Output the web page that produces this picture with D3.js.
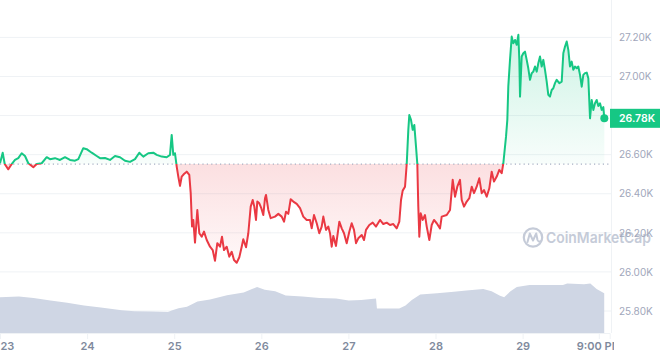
<!DOCTYPE html>
<html><head><meta charset="utf-8">
<script src="https://cdn.jsdelivr.net/npm/d3@7/dist/d3.min.js"></script>
<style>html,body{margin:0;padding:0;background:#fff;overflow:hidden}svg{display:block;font-family:Inter,"Noto Sans",sans-serif}</style>
</head><body><svg id="c" width="660" height="356"></svg>
<script>
// ---- data (hours since 23 Aug 00:00 UTC, price in thousands USD) ----
const priceHours = [0,0.74,1.30,2.29,3.22,4.13,5.04,5.98,6.89,7.80,9.18,10.11,11.49,12.87,13.78,15.16,16.53,17.91,19.29,20.67,21.58,22.95,23.89,25.27,26.65,27.56,28.93,30.31,
31.69,33.07,34.44,35.82,37.20,38.38,39.49,40.86,42.24,43.18,44.56,45.93,46.84,47.31,47.75,48.22,48.69,49.13,49.60,50.07,50.70,51.45,52.16,52.55,52.91,53.26,53.73,54.37,54.92,55.58,56.21,56.96,57.87,58.61,59.24,59.88,60.62,
61.17,61.72,62.47,63.18,63.85,64.48,65.22,65.94,66.60,67.04,67.79,68.42,69.08,69.63,70.07,70.54,70.90,71.45,72.00,72.55,73.02,73.30,73.93,74.59,75.78,76.69,77.62,78.26,78.81,79.44,80.10,80.82,81.76,82.67,83.57,84.51,85.42,85.89,86.52,87.27,87.98,88.64,89.09,89.83,90.46,
90.93,91.40,91.84,92.58,93.50,94.16,94.79,95.53,96.25,96.91,97.54,98.10,98.73,99.67,100.30,100.85,101.76,102.70,103.61,104.71,105.62,106.55,107.46,108.37,109.31,110.03,110.50,110.96,111.60,112.07,112.51,112.78,113.25,113.72,114.16,114.63,114.99,115.26,115.54,115.92,116.48,117.11,117.58,118.30,118.95,119.59,120.33,121.24,
121.71,123.09,124.00,124.74,125.38,126.01,126.75,127.22,127.86,128.60,129.32,129.98,130.61,131.35,132.07,132.73,133.37,134.11,134.83,135.49,136.12,136.87,137.58,138.24,138.69,139.43,139.79,140.06,
140.53,141.00,141.44,141.91,142.38,142.83,143.10,143.29,143.75,144.20,144.66,145.13,145.57,146.04,146.51,146.95,147.42,147.89,148.33,148.80,149.26,149.71,150.17,150.64,151.08,151.55,152.02,152.46,152.93,153.40,154.11,154.78,155.22,155.69,156.15,156.60,157.06,157.53,157.97,158.44,158.91,159.35,159.82,160.29,160.73,161.20,161.67,162.11,162.58,163.04,163.49,163.95,164.42,164.86,165.33,165.80,166.24,166.52];
const priceK = [26.556,26.610,26.552,26.525,26.552,26.573,26.582,26.607,26.593,26.556,26.536,26.552,26.556,26.587,26.577,26.582,26.573,26.587,26.573,26.569,26.577,26.633,26.628,26.610,26.593,26.582,26.583,26.573,
26.593,26.587,26.569,26.563,26.577,26.610,26.590,26.607,26.610,26.599,26.590,26.587,26.599,26.701,26.599,26.607,26.539,26.488,26.440,26.488,26.501,26.513,26.496,26.403,26.232,26.266,26.150,26.317,26.198,26.180,26.206,26.163,26.129,26.112,26.057,26.147,26.129,
26.180,26.112,26.129,26.078,26.103,26.061,26.047,26.075,26.129,26.167,26.126,26.198,26.334,26.368,26.334,26.266,26.360,26.351,26.326,26.291,26.377,26.394,26.317,26.275,26.283,26.297,26.283,26.257,26.308,26.297,26.372,26.360,26.348,26.326,26.283,26.266,26.266,26.223,26.291,26.249,26.198,26.232,26.283,26.215,26.232,
26.198,26.129,26.184,26.133,26.257,26.223,26.198,26.147,26.206,26.249,26.215,26.147,26.172,26.189,26.163,26.215,26.240,26.252,26.232,26.266,26.245,26.252,26.240,26.245,26.223,26.257,26.368,26.416,26.436,26.552,26.727,26.803,26.778,26.727,26.752,26.641,26.552,26.334,26.180,26.300,26.266,26.291,26.232,26.163,26.240,26.266,26.249,26.223,
26.283,26.291,26.317,26.471,26.385,26.436,26.471,26.368,26.334,26.360,26.377,26.436,26.403,26.436,26.479,26.403,26.419,26.385,26.428,26.513,26.462,26.488,26.522,26.505,26.556,26.692,26.778,26.948,
27.085,27.204,27.170,27.187,27.162,27.213,27.085,26.897,27.102,27.119,27.127,27.085,27.042,26.983,27.017,27.025,27.051,27.025,27.068,27.102,27.051,27.085,27.034,26.974,26.906,26.897,26.931,26.940,26.966,26.983,26.966,26.974,27.119,27.153,27.179,27.136,27.051,27.076,27.034,27.051,27.042,27.051,27.008,26.948,27.008,27.017,27.020,26.991,26.786,26.880,26.829,26.863,26.880,26.849,26.863,26.829,26.843,26.786];
const volHours = [0,5.21,9.26,13.89,18.52,23.15,27.78,33.56,37.06,41.69,46.29,47.48,49.21,51.53,54.42,57.87,62.55,67.15,69.44,70.84,72.94,75.83,78.73,83.35,87.98,92.61,96.08,99.56,103.61,103.86,110.0,111.74,113.47,115.79,120.42,125.05,128.52,133.15,135.46,137.78,138.93,140.67,142.41,145.88,150.51,155.13,156.29,160.92,162.66,164.39,166.49];
const volB = [17.9,18.2,17.5,16.2,15.1,13.8,12.8,11.4,10.9,10.7,10.5,11.4,12.4,13.1,15.8,16.8,18.9,20.3,22.0,23.0,21.6,20.9,18.7,18.2,17.5,17.2,16.2,16.5,17.2,12.2,12.2,13.8,16.5,19.2,19.9,20.6,21.3,22.0,20.9,18.6,17.9,20.9,23.0,24.0,24.0,24.0,24.7,24.4,24.7,22.0,19.9];
const openPriceK = 26.552;
const lastPriceLabel = "26.78K";
const yTickValues = [25.8, 26.0, 26.2, 26.4, 26.6, 26.8, 27.0, 27.2];
const xTickHours = [0, 24, 48, 72, 96, 120, 144, 165];
const xTickLabels = ["23", "24", "25", "26", "27", "28", "29", "9:00 PM"];
const watermarkText = "CoinMarketCap";

// ---- build ----
const t0 = Date.UTC(2023, 7, 23);
const toDate = h => new Date(t0 + h * 3600e3);
const n = Math.min(priceHours.length, priceK.length);
const pts = d3.range(n).map(i => ({t: toDate(priceHours[i]), v: priceK[i]}));
const vm = Math.min(volHours.length, volB.length);
const vpts = d3.range(vm).map(i => ({t: toDate(volHours[i]), v: volB[i]}));

const GREEN = "#16c784", RED = "#ea3943";
const plotRight = 611, axisY = 333;
const x = d3.scaleUtc().domain([toDate(0), toDate(168)]).range([0, 609.7]);
const y = d3.scaleLinear().domain([25.8, 27.2]).range([311, 37.4]);
const yv = d3.scaleLinear().domain([0, 25]).range([axisY, 283]);
const yBase = y(openPriceK);
const last = pts[pts.length - 1];
const ly = y(last.v);

const svg = d3.select("#c");
const defs = svg.append("defs");
const gG = defs.append("linearGradient").attr("id", "gg").attr("gradientUnits", "userSpaceOnUse")
  .attr("x1", 0).attr("x2", 0).attr("y1", 30).attr("y2", yBase);
gG.append("stop").attr("offset", 0).attr("stop-color", GREEN).attr("stop-opacity", 0.22);
gG.append("stop").attr("offset", 1).attr("stop-color", GREEN).attr("stop-opacity", 0.03);
const gR = defs.append("linearGradient").attr("id", "gr").attr("gradientUnits", "userSpaceOnUse")
  .attr("x1", 0).attr("x2", 0).attr("y1", yBase).attr("y2", 268);
gR.append("stop").attr("offset", 0).attr("stop-color", RED).attr("stop-opacity", 0.16);
gR.append("stop").attr("offset", 1).attr("stop-color", RED).attr("stop-opacity", 0.03);
defs.append("clipPath").attr("id", "above").append("rect").attr("x", 0).attr("y", 0).attr("width", plotRight).attr("height", yBase);
defs.append("clipPath").attr("id", "below").append("rect").attr("x", 0).attr("y", yBase).attr("width", plotRight).attr("height", axisY - yBase);
defs.append("clipPath").attr("id", "xlab").append("rect").attr("x", 0).attr("y", 0).attr("width", 614).attr("height", 356);

// gridlines
svg.append("g").selectAll("line").data(yTickValues).join("line")
  .attr("x1", 0).attr("x2", plotRight).attr("y1", d => y(d)).attr("y2", d => y(d))
  .attr("stroke", "#eff2f5").attr("stroke-width", 1);
svg.append("line").attr("x1", plotRight + 0.5).attr("x2", plotRight + 0.5).attr("y1", 0).attr("y2", axisY)
  .attr("stroke", "#eff2f5");

// volume
svg.append("path").datum(vpts)
  .attr("d", d3.area().x(d => x(d.t)).y0(axisY).y1(d => yv(d.v)))
  .attr("fill", "#cfd6e4");

// price areas
const area = d3.area().x(d => x(d.t)).y0(yBase).y1(d => y(d.v));
svg.append("path").datum(pts).attr("d", area).attr("fill", "url(#gg)").attr("clip-path", "url(#above)");
svg.append("path").datum(pts).attr("d", area).attr("fill", "url(#gr)").attr("clip-path", "url(#below)");

// baseline
svg.append("line").attr("x1", 0).attr("x2", plotRight).attr("y1", yBase).attr("y2", yBase)
  .attr("stroke", "#a6b0c3").attr("stroke-width", 1.2).attr("stroke-dasharray", "1.2,3.2");

// price lines
const line = d3.line().x(d => x(d.t)).y(d => y(d.v));
svg.append("path").datum(pts).attr("d", line).attr("fill", "none").attr("stroke", GREEN)
  .attr("stroke-width", 2).attr("stroke-linejoin", "round").attr("clip-path", "url(#above)");
svg.append("path").datum(pts).attr("d", line).attr("fill", "none").attr("stroke", RED)
  .attr("stroke-width", 2).attr("stroke-linejoin", "round").attr("clip-path", "url(#below)");

// watermark
const wm = svg.append("g").attr("fill", "none").attr("stroke", "#c5cbd8");
wm.append("circle").attr("cx", 533).attr("cy", 237.5).attr("r", 9.2).attr("stroke-width", 2.2);
wm.append("path").attr("d", "M527.5,242 L529.8,233.5 L533,240.5 L536.2,233.5 L537.5,240 Q538.5,242.5 541,241")
  .attr("stroke-width", 2).attr("stroke-linejoin", "round").attr("stroke-linecap", "round");
svg.append("text").attr("x", 546).attr("y", 243).text(watermarkText)
  .attr("font-size", 15).attr("font-weight", 600).attr("fill", "#c5cbd8")
  .attr("textLength", 105).attr("lengthAdjust", "spacingAndGlyphs");

// end dot
svg.append("circle").attr("cx", x(last.t)).attr("cy", ly).attr("r", 4).attr("fill", GREEN);

// x axis
const xAxis = svg.append("g").attr("transform", `translate(0,${axisY})`).attr("clip-path", "url(#xlab)")
  .call(d3.axisBottom(x).tickValues(xTickHours.map(toDate)).tickFormat((d, i) => xTickLabels[i]).tickSize(6).tickPadding(3));
xAxis.select(".domain").attr("stroke", "#eff2f5");
xAxis.selectAll(".tick line").attr("stroke", "#eff2f5");
xAxis.selectAll(".tick text").attr("fill", "#808a9d").attr("font-size", 11).attr("font-weight", 600)
  .attr("font-family", "Inter, sans-serif")
  .attr("text-anchor", (d, i) => i === 0 ? "start" : "middle");

// y axis labels (the label hidden behind the last-price badge is not drawn)
const yLabelValues = yTickValues.filter(v => Math.abs(y(v) - ly) > 10);
const yAxis = svg.append("g").attr("transform", `translate(${plotRight},0)`)
  .call(d3.axisRight(y).tickValues(yLabelValues).tickFormat(d => d.toFixed(2) + "K").tickSize(0).tickPadding(8));
yAxis.select(".domain").remove();
yAxis.selectAll(".tick text").attr("fill", "#a1a7bb").attr("font-size", 10).attr("font-family", "Inter, sans-serif");

// last price badge
svg.append("rect").attr("x", plotRight - 1).attr("y", ly - 9.5).attr("width", 660 - plotRight + 1).attr("height", 19).attr("fill", GREEN);
svg.append("text").attr("x", 619).attr("y", ly + 3.8).text(lastPriceLabel)
  .attr("fill", "#fff").attr("font-size", 10.5).attr("font-weight", 600).attr("font-family", "Inter, sans-serif");
</script></body></html>
